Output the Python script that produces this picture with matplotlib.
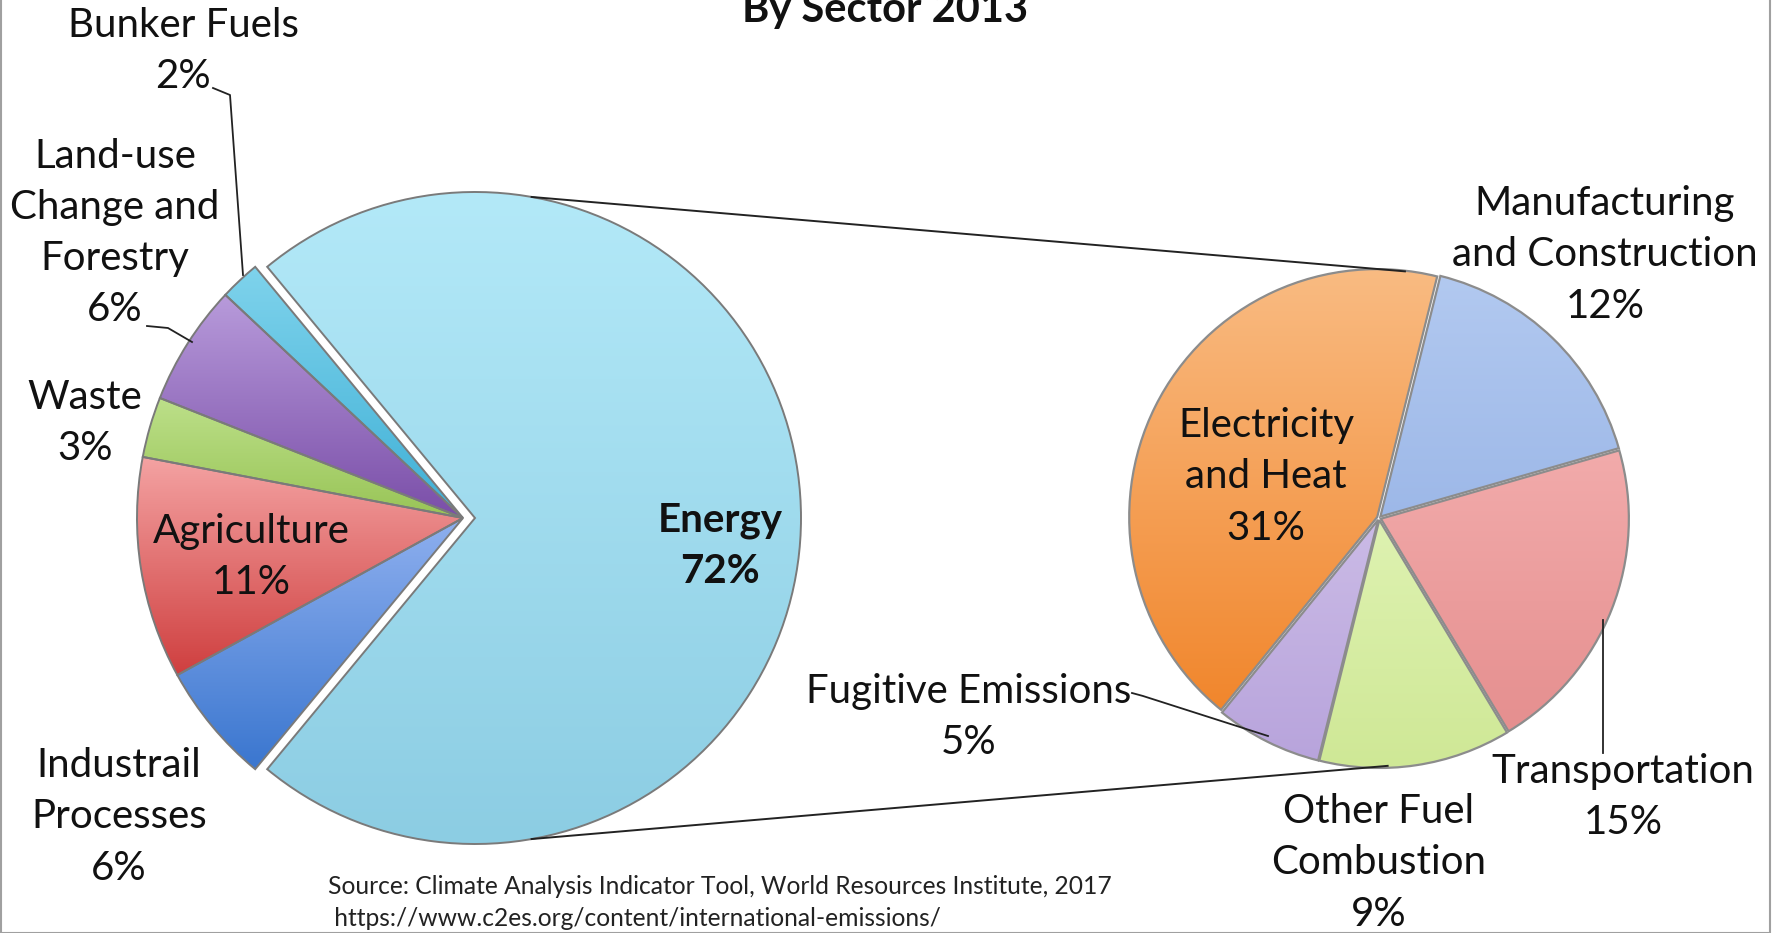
import matplotlib
matplotlib.use('Agg')
import matplotlib.pyplot as plt
import numpy as np
from matplotlib.colors import to_rgb
from matplotlib.patches import Rectangle

# ---------------- data ----------------
main_names = ['Energy', 'Bunker Fuels', 'Land-use\nChange and\nForestry', 'Waste',
              'Agriculture', 'Industrail\nProcesses']
main_values = [72, 2, 6, 3, 11, 6]
main_top = ['#b3e9f8', '#7fd3ec', '#b89bdb', '#bde08a', '#f4a3a3', '#8fb0ef']
main_bot = ['#8ccde3', '#3fb0d6', '#7a4ea8', '#98c456', '#cf3f3f', '#3a76cf']

sub_names = ['Manufacturing\nand Construction', 'Electricity\nand Heat', 'Fugitive Emissions',
             'Other Fuel\nCombustion', 'Transportation']
sub_values = [12, 31, 5, 9, 15]
sub_top = ['#b2c9f0', '#f9bb82', '#cbbbe6', '#def2b1', '#f2abab']
sub_bot = ['#9db8e8', '#f1862c', '#b8a4dc', '#cfe896', '#e58f8f']

title = 'By Sector 2013'
source_lines = ['Source: Climate Analysis Indicator Tool, World Resources Institute, 2017',
                ' https://www.c2es.org/content/international-emissions/']

# ---------------- layout ----------------
W, H = 1775, 933
FONT = ['Lato', 'DejaVu Sans']
FS = 29
LS = 1.47

def fy(y):
    return H - y

fig = plt.figure(figsize=(W / 100, H / 100), dpi=100)
ax = fig.add_axes([0, 0, 1, 1])

def grad_fill(wedge, ctop, cbot, z):
    ext = wedge.get_path().get_extents()
    n = 256
    t = np.linspace(0, 1, n)[:, None]
    a = np.array(to_rgb(cbot)); b = np.array(to_rgb(ctop))
    img = (a[None, None, :] * (1 - t[..., None]) + b[None, None, :] * t[..., None])
    img = np.repeat(img, 2, axis=1)
    im = ax.imshow(img, extent=[ext.x0, ext.x1, ext.y0, ext.y1], origin='lower',
                   aspect='auto', interpolation='bilinear', zorder=z)
    im.set_clip_path(wedge)

# main pie
main_c = (463, fy(518))
main_r = 326
wedges, _ = ax.pie(main_values, radius=main_r, center=main_c, startangle=-129.6,
                   counterclock=True, explode=[12, 0, 0, 0, 0, 0],
                   wedgeprops=dict(edgecolor='#7a7a7a', linewidth=1.4, facecolor='none'))
for w, ct, cb in zip(wedges, main_top, main_bot):
    w.set_zorder(3)
    grad_fill(w, ct, cb, 2)

# sub pie
sub_c = (1379, fy(518))
sub_r = 248
swedges, _ = ax.pie(sub_values, radius=sub_r, center=sub_c, startangle=16,
                    counterclock=True, explode=[2] * len(sub_values),
                    wedgeprops=dict(edgecolor='#8c8c8c', linewidth=1.6, facecolor='none'))
for w, ct, cb in zip(swedges, sub_top, sub_bot):
    w.set_zorder(3)
    grad_fill(w, ct, cb, 2)

# connector lines
ec = (main_c[0] + 12, main_c[1])
def pt(c, r, ang):
    return c[0] + r * np.cos(np.radians(ang)), c[1] + r * np.sin(np.radians(ang))
p1 = pt(ec, main_r, 80); q1 = pt(sub_c, sub_r, 84)
p2 = pt(ec, main_r, -80); q2 = pt(sub_c, sub_r, -88)
ax.plot([p1[0], q1[0]], [p1[1], q1[1]], color='#222222', lw=1.4, zorder=4)
ax.plot([p2[0], q2[0]], [p2[1], q2[1]], color='#222222', lw=1.4, zorder=4)

# labels
main_pos = [(720, 546), (183, 51), (115, 233), (85, 423), (251, 557), (119, 817)]
for name, v, (x, y), i in zip(main_names, main_values, main_pos, range(6)):
    ax.text(x, fy(y), f'{name}\n{v}%', ha='center', va='center', fontsize=FS,
            family=FONT, linespacing=LS, color='#111111',
            fontweight='bold' if i == 0 else 'normal', zorder=6)

sub_pos = [(1605, 255), (1266, 477), (969, 717), (1379, 863), (1623, 797)]
for name, v, (x, y) in zip(sub_names, sub_values, sub_pos):
    ax.text(x, fy(y), f'{name}\n{v}%', ha='center', va='center', fontsize=FS,
            family=FONT, linespacing=LS, color='#111111', zorder=6)

# leader lines
leaders = [
    [(213, 88), (230, 95), (243, 275)],
    [(147, 326), (168, 328), (192, 342)],
    [(1132, 693), (1143, 696), (1268, 736)],
    [(1603, 620), (1603, 753)],
]
for seg in leaders:
    xs = [p[0] for p in seg]; ys = [fy(p[1]) for p in seg]
    ax.plot(xs, ys, color='#222222', lw=1.3, zorder=5)

# title (partially cut at top, as in the reference)
ax.text(885, fy(22), title, ha='center', va='baseline', fontsize=30,
        family=FONT, fontweight='bold', color='#111111')

# source
ax.text(328, fy(887), source_lines[0], ha='left', va='center', fontsize=17.7,
        family=FONT, color='#222222')
ax.text(328, fy(919), source_lines[1], ha='left', va='center', fontsize=17.7,
        family=FONT, color='#222222')

ax.add_patch(Rectangle((1, 0), W - 6, H + 5, fill=False, edgecolor='#a0a0a0',
                       lw=1.5, zorder=10))

ax.set_xlim(0, W)
ax.set_ylim(0, H)
ax.set_aspect('auto')
ax.axis('off')
fig.savefig('out.png', dpi=100, facecolor='white')
